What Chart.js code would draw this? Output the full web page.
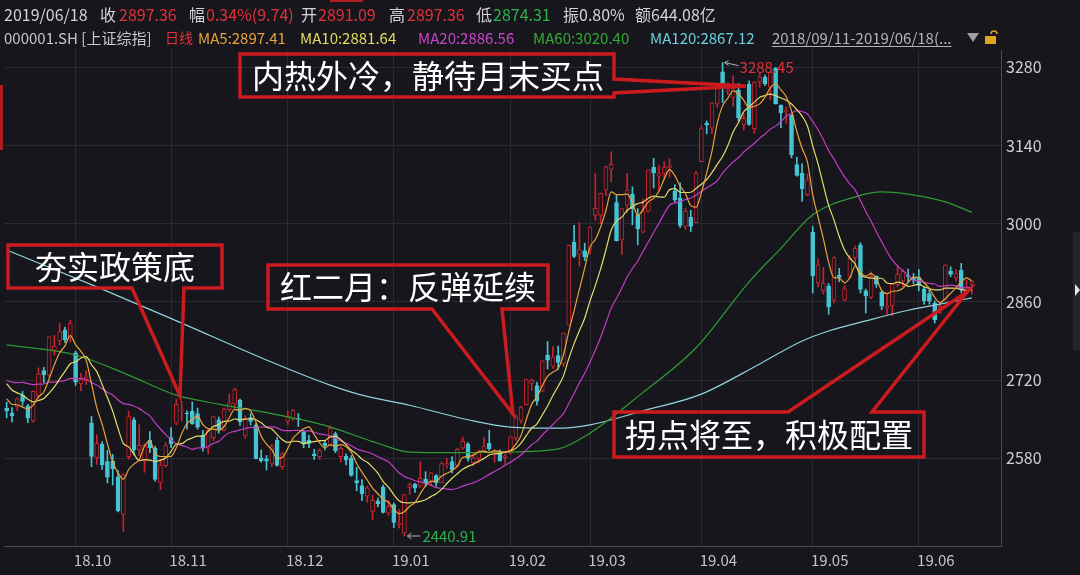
<!DOCTYPE html>
<html>
<head>
<meta charset="utf-8">
<title>上证综指 日线</title>
<script src="https://cdn.jsdelivr.net/npm/chart.js@4.4.1/dist/chart.umd.min.js"></script>
<style>
  html, body { margin: 0; padding: 0; background: #16161c; overflow: hidden; }
  canvas { display: block; }
</style>
</head>
<body>
<canvas id="kline" width="1080" height="575"></canvas>
<script>
// trading days shown on the chart (2018/09/11 - 2019/06/18)
const dates = [
  '2018/09/11','2018/09/12','2018/09/13','2018/09/14','2018/09/17','2018/09/18','2018/09/19','2018/09/20','2018/09/21','2018/09/25','2018/09/26','2018/09/27','2018/09/28',
  '2018/10/08','2018/10/09','2018/10/10','2018/10/11','2018/10/12','2018/10/15','2018/10/16','2018/10/17','2018/10/18','2018/10/19','2018/10/22','2018/10/23','2018/10/24','2018/10/25','2018/10/26','2018/10/29','2018/10/30','2018/10/31',
  '2018/11/01','2018/11/02','2018/11/05','2018/11/06','2018/11/07','2018/11/08','2018/11/09','2018/11/12','2018/11/13','2018/11/14','2018/11/15','2018/11/16','2018/11/19','2018/11/20','2018/11/21','2018/11/22','2018/11/23','2018/11/26','2018/11/27','2018/11/28','2018/11/29','2018/11/30',
  '2018/12/03','2018/12/04','2018/12/05','2018/12/06','2018/12/07','2018/12/10','2018/12/11','2018/12/12','2018/12/13','2018/12/14','2018/12/17','2018/12/18','2018/12/19','2018/12/20','2018/12/21','2018/12/24','2018/12/25','2018/12/26','2018/12/27','2018/12/28',
  '2019/01/02','2019/01/03','2019/01/04','2019/01/07','2019/01/08','2019/01/09','2019/01/10','2019/01/11','2019/01/14','2019/01/15','2019/01/16','2019/01/17','2019/01/18','2019/01/21','2019/01/22','2019/01/23','2019/01/24','2019/01/25','2019/01/28','2019/01/29','2019/01/30','2019/01/31',
  '2019/02/01','2019/02/11','2019/02/12','2019/02/13','2019/02/14','2019/02/15','2019/02/18','2019/02/19','2019/02/20','2019/02/21','2019/02/22','2019/02/25','2019/02/26','2019/02/27','2019/02/28',
  '2019/03/01','2019/03/04','2019/03/05','2019/03/06','2019/03/07','2019/03/08','2019/03/11','2019/03/12','2019/03/13','2019/03/14','2019/03/15','2019/03/18','2019/03/19','2019/03/20','2019/03/21','2019/03/22','2019/03/25','2019/03/26','2019/03/27','2019/03/28','2019/03/29',
  '2019/04/01','2019/04/02','2019/04/03','2019/04/04','2019/04/08','2019/04/09','2019/04/10','2019/04/11','2019/04/12','2019/04/15','2019/04/16','2019/04/17','2019/04/18','2019/04/19','2019/04/22','2019/04/23','2019/04/24','2019/04/25','2019/04/26','2019/04/29','2019/04/30',
  '2019/05/06','2019/05/07','2019/05/08','2019/05/09','2019/05/10','2019/05/13','2019/05/14','2019/05/15','2019/05/16','2019/05/17','2019/05/20','2019/05/21','2019/05/22','2019/05/23','2019/05/24','2019/05/27','2019/05/28','2019/05/29','2019/05/30','2019/05/31',
  '2019/06/03','2019/06/04','2019/06/05','2019/06/06','2019/06/10','2019/06/11','2019/06/12','2019/06/13','2019/06/14','2019/06/17','2019/06/18'
];

const opens = [
  2670.0, 2661.0, 2673.0, 2693.0, 2674.0, 2647.0, 2692.0, 2737.0, 2729.0, 2773.0, 2790.0, 2810.0, 2795.0,
  2768.8, 2713.0, 2719.0, 2643.0, 2581.0, 2605.0, 2574.0, 2575.0, 2547.0, 2480.0, 2583.0, 2649.0, 2595.0, 2575.0, 2612.0, 2598.0, 2537.0, 2567.0,
  2617.0, 2643.0, 2665.0, 2661.0, 2664.0, 2660.0, 2621.0, 2598.0, 2617.0, 2649.0, 2630.0, 2667.0, 2677.0, 2684.0, 2620.0, 2653.0, 2639.0, 2581.0, 2579.0, 2570.0, 2612.0, 2565.0,
  2646.0, 2650.0, 2650.0, 2628.0, 2612.0, 2588.0, 2583.0, 2607.0, 2605.0, 2624.0, 2583.0, 2584.0, 2580.0, 2540.0, 2531.0, 2512.0, 2485.0, 2504.0, 2528.0, 2482.0,
  2497.0, 2461.0, 2446.0, 2528.0, 2534.0, 2530.0, 2543.0, 2539.0, 2549.0, 2536.0, 2568.0, 2574.0, 2567.0, 2598.0, 2606.0, 2572.0, 2580.0, 2593.0, 2607.0, 2587.0, 2590.0, 2581.0,
  2589.0, 2617.0, 2648.0, 2676.0, 2714.0, 2710.0, 2700.0, 2765.0, 2745.0, 2764.0, 2750.0, 2819.0, 2967.0, 2945.0, 2952.0,
  2954.0, 3015.0, 3015.0, 3060.0, 3097.0, 3038.0, 2971.0, 3033.0, 3053.0, 3015.0, 2985.0, 3022.0, 3101.0, 3085.0, 3090.0, 3100.0, 3059.0, 3046.0, 2995.0, 3012.0, 3002.0,
  3111.0, 3180.0, 3171.0, 3214.0, 3272.0, 3237.0, 3226.0, 3239.0, 3177.0, 3250.0, 3170.0, 3254.0, 3262.0, 3245.0, 3278.0, 3212.0, 3201.0, 3194.0, 3106.0, 3090.0, 3052.0,
  2985.0, 2894.0, 2880.0, 2889.0, 2863.0, 2908.0, 2863.0, 2904.0, 2939.0, 2962.0, 2880.0, 2868.0, 2906.0, 2878.0, 2849.0, 2853.0, 2891.0, 2897.0, 2908.0, 2903.0,
  2904.0, 2883.0, 2875.0, 2858.0, 2840.0, 2863.0, 2915.0, 2903.0, 2917.0, 2879.0, 2891.09
];

const highs = [
  2680.5, 2671.0, 2688.8, 2700.0, 2676.5, 2701.0, 2742.0, 2743.0, 2797.5, 2800.0, 2822.0, 2815.0, 2827.3,
  2771.9, 2732.0, 2737.0, 2655.0, 2622.0, 2610.0, 2594.0, 2587.0, 2558.0, 2553.0, 2664.0, 2653.0, 2640.0, 2606.0, 2628.0, 2602.0, 2578.0, 2608.0,
  2635.0, 2686.0, 2682.0, 2665.0, 2681.0, 2670.0, 2630.0, 2631.0, 2655.0, 2654.0, 2670.0, 2695.0, 2705.0, 2686.0, 2656.0, 2660.0, 2642.0, 2595.0, 2585.0, 2605.0, 2617.0, 2591.0,
  2665.0, 2667.0, 2660.0, 2630.0, 2621.0, 2596.0, 2597.0, 2612.0, 2638.0, 2627.0, 2601.0, 2588.0, 2585.0, 2564.0, 2542.0, 2530.0, 2514.0, 2509.0, 2532.0, 2505.0,
  2500.0, 2488.0, 2515.0, 2536.0, 2535.0, 2574.0, 2556.0, 2555.0, 2551.0, 2573.0, 2580.0, 2583.0, 2598.0, 2618.0, 2608.0, 2589.0, 2595.0, 2617.0, 2630.0, 2596.0, 2595.0, 2588.0,
  2618.5, 2658.0, 2673.0, 2722.0, 2722.0, 2716.0, 2755.0, 2789.0, 2780.0, 2781.0, 2804.7, 2961.8, 2997.0, 3002.0, 2965.0,
  2995.0, 3090.0, 3055.0, 3103.0, 3129.0, 3052.0, 3027.0, 3090.0, 3066.0, 3027.0, 3044.0, 3096.5, 3117.0, 3104.0, 3111.0, 3116.0, 3070.0, 3073.0, 3028.0, 3024.0, 3094.0,
  3176.0, 3184.0, 3217.0, 3251.0, 3288.45, 3252.0, 3265.0, 3251.0, 3197.0, 3256.0, 3254.0, 3270.0, 3266.0, 3272.0, 3280.0, 3213.0, 3209.0, 3195.0, 3119.0, 3107.0, 3089.0,
  2995.0, 2937.0, 2922.0, 2893.0, 2941.0, 2920.0, 2889.0, 2943.0, 2960.0, 2966.0, 2883.0, 2914.0, 2907.0, 2879.0, 2875.0, 2893.0, 2925.0, 2918.0, 2919.0, 2911.0,
  2918.0, 2887.0, 2883.0, 2862.0, 2859.0, 2927.0, 2923.0, 2918.0, 2929.0, 2899.0, 2897.36
];

const lows = [
  2652.3, 2645.0, 2665.0, 2674.9, 2644.0, 2644.3, 2687.0, 2715.0, 2726.0, 2765.0, 2783.0, 2787.0, 2788.0,
  2710.5, 2701.0, 2712.0, 2565.0, 2569.0, 2560.0, 2536.0, 2532.0, 2484.0, 2449.2, 2578.0, 2586.0, 2585.0, 2555.0, 2590.0, 2539.0, 2524.0, 2564.0,
  2599.0, 2640.0, 2647.0, 2632.0, 2641.0, 2632.0, 2593.0, 2588.0, 2612.0, 2625.0, 2629.0, 2663.0, 2670.0, 2639.0, 2616.0, 2640.0, 2579.0, 2573.0, 2559.0, 2565.0, 2566.0, 2560.0,
  2640.0, 2648.0, 2637.0, 2599.0, 2599.0, 2578.0, 2578.0, 2595.0, 2603.0, 2590.0, 2573.0, 2568.0, 2548.0, 2522.0, 2504.0, 2501.0, 2470.0, 2493.0, 2482.0, 2478.0,
  2456.0, 2455.0, 2440.91, 2515.0, 2519.0, 2528.0, 2530.0, 2530.0, 2530.0, 2536.0, 2562.0, 2554.0, 2563.0, 2596.0, 2575.0, 2567.0, 2572.0, 2590.0, 2594.0, 2573.0, 2575.0, 2571.0,
  2587.0, 2612.0, 2643.0, 2675.0, 2701.0, 2675.0, 2699.0, 2740.0, 2741.0, 2739.0, 2744.0, 2819.0, 2939.0, 2924.0, 2934.0,
  2946.0, 3006.0, 3000.0, 3050.0, 3075.0, 2969.0, 2945.0, 3020.0, 2998.0, 2962.0, 2984.0, 3021.0, 3064.0, 3060.0, 3079.0, 3083.0, 3039.0, 2993.0, 2990.0, 2986.0, 3002.0,
  3111.0, 3161.0, 3161.0, 3208.0, 3217.0, 3231.0, 3210.0, 3184.0, 3168.0, 3176.0, 3162.0, 3244.0, 3247.0, 3222.0, 3214.0, 3172.0, 3180.0, 3118.0, 3085.0, 3040.0, 3050.0,
  2876.0, 2887.0, 2874.0, 2838.0, 2858.0, 2896.0, 2862.0, 2903.0, 2928.0, 2876.0, 2840.0, 2866.0, 2886.0, 2846.0, 2838.0, 2835.0, 2887.0, 2887.0, 2896.0, 2893.0,
  2880.0, 2856.0, 2856.0, 2822.0, 2839.0, 2863.0, 2905.0, 2897.0, 2877.0, 2875.0, 2874.31
];

const closes = [
  2664.80, 2656.11, 2686.58, 2681.64, 2651.79, 2699.95, 2730.85, 2729.24, 2797.49, 2781.14, 2806.81, 2791.77, 2821.35,
  2716.51, 2721.01, 2725.84, 2583.46, 2606.91, 2568.10, 2546.33, 2561.61, 2486.42, 2550.47, 2654.88, 2594.83, 2603.30, 2603.80, 2598.85, 2542.10, 2568.05, 2602.78,
  2606.24, 2676.48, 2665.43, 2659.36, 2641.34, 2635.63, 2598.87, 2630.52, 2654.88, 2632.24, 2668.17, 2679.11, 2703.51, 2645.43, 2651.51, 2645.85, 2579.48, 2575.81, 2574.68, 2601.74, 2567.44, 2588.19,
  2654.80, 2665.96, 2649.81, 2605.18, 2605.89, 2584.58, 2594.09, 2602.15, 2634.05, 2593.74, 2597.97, 2576.65, 2549.56, 2536.27, 2516.25, 2527.01, 2504.82, 2498.29, 2483.09, 2493.90,
  2465.29, 2464.36, 2514.87, 2533.09, 2526.46, 2544.34, 2535.10, 2553.83, 2535.77, 2570.42, 2570.34, 2559.64, 2596.01, 2610.51, 2579.70, 2581.00, 2591.69, 2601.72, 2596.98, 2594.25, 2575.58, 2584.57,
  2618.23, 2653.90, 2671.89, 2721.07, 2719.70, 2682.39, 2754.36, 2755.65, 2761.22, 2751.80, 2804.23, 2961.28, 2941.52, 2953.82, 2940.95,
  2994.01, 3027.58, 3054.25, 3102.10, 3106.42, 2969.86, 3026.99, 3060.31, 3026.95, 2990.69, 3021.75, 3096.42, 3090.98, 3090.64, 3101.46, 3104.15, 3043.03, 2997.10, 3022.72, 2994.94, 3090.76,
  3170.36, 3176.82, 3216.30, 3246.57, 3244.81, 3239.66, 3241.93, 3189.96, 3188.63, 3177.79, 3253.60, 3263.12, 3250.20, 3270.80, 3215.04, 3198.59, 3201.61, 3123.83, 3086.40, 3062.50, 3078.34,
  2906.46, 2926.39, 2893.76, 2850.95, 2939.21, 2903.71, 2883.61, 2938.68, 2955.71, 2882.30, 2870.60, 2905.97, 2891.70, 2852.52, 2852.99, 2892.38, 2909.91, 2914.70, 2905.81, 2898.70,
  2890.08, 2862.28, 2861.42, 2827.80, 2852.13, 2925.72, 2909.38, 2910.74, 2881.97, 2887.62, 2897.36
];

// closes of the 19 sessions before the window, needed for MA5/10/20 at the left edge
const prevCloses = [
  2723.26, 2705.19, 2668.97, 2698.47, 2733.85, 2714.61, 2724.62, 2729.43, 2780.90, 2777.98,
  2769.30, 2737.74, 2725.25, 2720.73, 2750.58, 2704.34, 2691.59, 2702.30, 2669.48
];

// long averages (index into dates -> value)
const ma60Idx = [0, 13, 23, 32, 40, 50, 60, 70, 76, 84, 93, 104, 110, 120, 130, 140, 146, 152, 160, 165, 170, 177, 182];
const ma60Val = [2783, 2765, 2729, 2693, 2677, 2660, 2639, 2607, 2591, 2590, 2591, 2597, 2625, 2698, 2778, 2896, 2956, 3016, 3048, 3057, 3053, 3039, 3020.40];
const ma120Idx = [0, 17, 33, 49, 61, 67, 76, 87, 95, 104, 110, 120, 131, 142, 150, 155, 162, 170, 176, 182];
const ma120Val = [2953, 2887, 2822, 2756, 2711, 2693, 2675, 2649, 2636, 2634, 2640, 2665, 2695, 2749, 2790, 2808, 2826, 2845, 2856, 2867.12];

const yTicks = [2580, 2720, 2860, 3000, 3140, 3280];
const emptySlots = 5;

const BG = '#16161c';
const GRID = '#2a2a33';
const UP = '#c8242f';
const DOWN = '#45c4d4';
const RED = '#e0313b';
const GREEN = '#2cb24a';
const FONT = '"Noto Sans CJK SC", "Noto Sans", sans-serif';

// moving average of the closes, using the earlier sessions for the first days
function movingAvg(n) {
  const all = prevCloses.concat(closes);
  return closes.map((c, i) => {
    const end = i + prevCloses.length;
    let s = 0;
    for (let k = end - n + 1; k <= end; k++) s += all[k];
    return s / n;
  });
}

function sparseSeries(idx, vals) {
  const arr = new Array(dates.length).fill(null);
  idx.forEach((i, k) => { arr[i] = vals[k]; });
  return arr;
}

const ma5 = movingAvg(5);
const ma10 = movingAvg(10);
const ma20 = movingAvg(20);
const ma60 = sparseSeries(ma60Idx, ma60Val);
const ma120 = sparseSeries(ma120Idx, ma120Val);

const labels = dates.concat(new Array(emptySlots).fill(''));
const wicks = dates.map((d, i) => [lows[i], highs[i]]);
const bodies = dates.map((d, i) => [opens[i], closes[i]]);
const isUp = dates.map((d, i) => closes[i] >= opens[i]);

function monthTick(i) {
  if (i <= 0 || i >= dates.length) return null;
  const m = dates[i].slice(0, 7);
  if (m === dates[i - 1].slice(0, 7)) return null;
  return dates[i].slice(2, 4) + '.' + dates[i].slice(5, 7);
}

function text(ctx, s, x, y, color, size) {
  ctx.fillStyle = color;
  ctx.font = size + 'px ' + FONT;
  ctx.fillText(s, x, y);
}

function callout(ctx, pts, label, tx, ty) {
  ctx.beginPath();
  pts.forEach((p, i) => (i ? ctx.lineTo(p[0], p[1]) : ctx.moveTo(p[0], p[1])));
  ctx.closePath();
  ctx.strokeStyle = '#cc1b1f';
  ctx.lineWidth = 3.5;
  ctx.lineJoin = 'miter';
  ctx.stroke();
  ctx.textAlign = 'center';
  text(ctx, label, tx, ty, '#ffffff', 32);
  ctx.textAlign = 'left';
}

const decorations = {
  id: 'decorations',
  beforeDraw(chart) {
    const ctx = chart.ctx;
    ctx.save();
    ctx.fillStyle = BG;
    ctx.fillRect(0, 0, chart.width, chart.height);
    ctx.restore();
  },
  afterDraw(chart) {
    const ctx = chart.ctx;
    const xs = chart.scales.x, ys = chart.scales.y;
    const last = closes.length - 1;
    const prev = closes[last - 1];
    const chg = closes[last] - prev;
    const W = '#d4d4d4';
    ctx.save();
    ctx.textAlign = 'left';
    ctx.textBaseline = 'middle';

    // header row 1: quote of the last session
    const r1 = 15;
    text(ctx, dates[last], 4, r1, W, 16);
    text(ctx, '收', 100, r1, W, 16);
    text(ctx, closes[last].toFixed(2), 119, r1, RED, 16);
    text(ctx, '幅', 189, r1, W, 16);
    text(ctx, (chg / prev * 100).toFixed(2) + '%(' + chg.toFixed(2) + ')', 206, r1, RED, 16);
    text(ctx, '开', 301, r1, W, 16);
    text(ctx, opens[last].toFixed(2), 318, r1, RED, 16);
    text(ctx, '高', 389, r1, W, 16);
    text(ctx, highs[last].toFixed(2), 407, r1, RED, 16);
    text(ctx, '低', 476, r1, W, 16);
    text(ctx, lows[last].toFixed(2), 493, r1, GREEN, 16);
    text(ctx, '振' + ((highs[last] - lows[last]) / prev * 100).toFixed(2) + '%', 563, r1, W, 16);
    text(ctx, '额644.08亿', 635, r1, W, 16);

    // header row 2: indicator legend
    const r2 = 38;
    text(ctx, '000001.SH [上证综指]', 4, r2, '#c8c8c8', 15);
    text(ctx, '日线', 165, r2, RED, 14);
    text(ctx, 'MA5:' + ma5[last].toFixed(2), 198, r2, '#e8a33a', 15);
    text(ctx, 'MA10:' + ma10[last].toFixed(2), 300, r2, '#e4dc5c', 15);
    text(ctx, 'MA20:' + ma20[last].toFixed(2), 418, r2, '#cc44cc', 15);
    text(ctx, 'MA60:' + ma60Val[ma60Val.length - 1].toFixed(2), 533, r2, '#35a835', 15);
    text(ctx, 'MA120:' + ma120Val[ma120Val.length - 1].toFixed(2), 650, r2, '#6ccfdc', 15);
    const range = dates[0] + '-' + dates[last] + '(...';
    text(ctx, range, 772, r2, '#b4b4b4', 15);
    const rw = ctx.measureText(range).width;
    ctx.fillStyle = '#b4b4b4';
    ctx.fillRect(772, r2 + 8, rw, 1);
    // dropdown arrow and lock
    ctx.beginPath();
    ctx.moveTo(967, 33); ctx.lineTo(979, 33); ctx.lineTo(973, 42); ctx.closePath();
    ctx.fillStyle = '#a0a0a0'; ctx.fill();
    ctx.fillStyle = '#e0a420';
    ctx.fillRect(985, 36, 11, 8);
    ctx.strokeStyle = '#e0a420'; ctx.lineWidth = 1.5;
    ctx.beginPath(); ctx.arc(994, 34, 3, Math.PI, 0); ctx.stroke();

    // small chrome bits
    ctx.fillStyle = '#b01c22';
    ctx.fillRect(330, 0, 33, 2);
    ctx.fillRect(0, 85, 3, 65);
    ctx.fillStyle = '#24242c';
    ctx.fillRect(1073, 232, 7, 118);
    ctx.beginPath();
    ctx.moveTo(1075, 284); ctx.lineTo(1080, 290); ctx.lineTo(1075, 296); ctx.closePath();
    ctx.fillStyle = '#e6e6e6'; ctx.fill();

    // low / high markers
    const iLow = lows.indexOf(Math.min.apply(null, lows));
    const iHigh = highs.indexOf(Math.max.apply(null, highs));
    let px = xs.getPixelForValue(iLow), py = ys.getPixelForValue(lows[iLow]);
    ctx.strokeStyle = '#b0b0b0'; ctx.lineWidth = 1;
    ctx.beginPath(); ctx.moveTo(px + 3, py); ctx.lineTo(px + 16, py); ctx.stroke();
    ctx.beginPath(); ctx.moveTo(px + 7, py - 3); ctx.lineTo(px + 3, py); ctx.lineTo(px + 7, py + 3); ctx.stroke();
    text(ctx, lows[iLow].toFixed(2), px + 18, py, GREEN, 15);
    px = xs.getPixelForValue(iHigh); py = ys.getPixelForValue(highs[iHigh]);
    ctx.beginPath(); ctx.moveTo(px + 2, py); ctx.lineTo(px + 16, py + 3); ctx.stroke();
    ctx.beginPath(); ctx.moveTo(px + 6, py - 2); ctx.lineTo(px + 2, py); ctx.lineTo(px + 6, py + 3); ctx.stroke();
    text(ctx, highs[iHigh].toFixed(2), px + 17, py + 5, RED, 15);

    // comment boxes
    callout(ctx, [[8,245],[222,245],[222,288],[184,288],[180,396],[132,288],[8,288]], '夯实政策底', 115, 267);
    callout(ctx, [[268,265],[548,265],[548,309],[502,309],[513,414],[432,309],[268,309]], '红二月：反弹延续', 408, 287);
    callout(ctx, [[240,54],[614,54],[614,79],[746,86],[614,93],[614,97],[240,97]], '内热外冷，静待月末买点', 428, 76);
    callout(ctx, [[614,412],[788,412],[968,291],[872,412],[924,412],[924,457],[614,457]], '拐点将至，积极配置', 769, 435);
    ctx.restore();
  }
};

const lineDs = (label, data, color) => ({
  type: 'line', label: label, data: data,
  borderColor: color, borderWidth: 1.2, pointRadius: 0,
  cubicInterpolationMode: 'monotone', spanGaps: true, order: 0
});

new Chart(document.getElementById('kline').getContext('2d'), {
  type: 'bar',
  data: {
    labels: labels,
    datasets: [
      lineDs('MA5', ma5, '#e8a33a'),
      lineDs('MA10', ma10, '#e4dc6a'),
      lineDs('MA20', ma20, '#c23cc4'),
      lineDs('MA60', ma60, '#2f9a35'),
      lineDs('MA120', ma120, '#8fd3dc'),
      {
        label: 'body', data: bodies, order: 1, grouped: false,
        backgroundColor: isUp.map(u => (u ? BG : DOWN)),
        borderColor: isUp.map(u => (u ? UP : DOWN)),
        borderWidth: 1, borderSkipped: false, barThickness: 4, minBarLength: 1
      },
      {
        label: 'wick', data: wicks, order: 2, grouped: false,
        backgroundColor: isUp.map(u => (u ? UP : DOWN)),
        borderWidth: 0, barThickness: 1
      }
    ]
  },
  options: {
    responsive: false,
    animation: false,
    devicePixelRatio: 1,
    layout: { padding: { top: 50, left: 4, right: 0, bottom: 0 } },
    plugins: { legend: { display: false }, tooltip: { enabled: false } },
    scales: {
      x: {
        offset: true,
        grid: { color: GRID, offset: false, drawTicks: false },
        border: { display: true, color: '#4a4a54' },
        ticks: {
          autoSkip: false, maxRotation: 0, color: '#c4c4c4',
          font: { size: 15, family: FONT }, labelOffset: 17, padding: 5,
          callback: (v, i) => monthTick(i)
        },
        afterFit: s => { s.height = 29; }
      },
      y: {
        position: 'right',
        min: 2423, max: 3311,
        grid: { color: GRID, drawTicks: false },
        border: { display: true, color: '#4a4a54' },
        ticks: {
          color: '#cfcfcf', font: { size: 16, family: FONT }, padding: 5,
          callback: v => String(v)
        },
        afterBuildTicks: s => { s.ticks = yTicks.map(v => ({ value: v })); },
        afterFit: s => { s.width = 79; }
      }
    }
  },
  plugins: [decorations]
});
</script>
</body>
</html>
